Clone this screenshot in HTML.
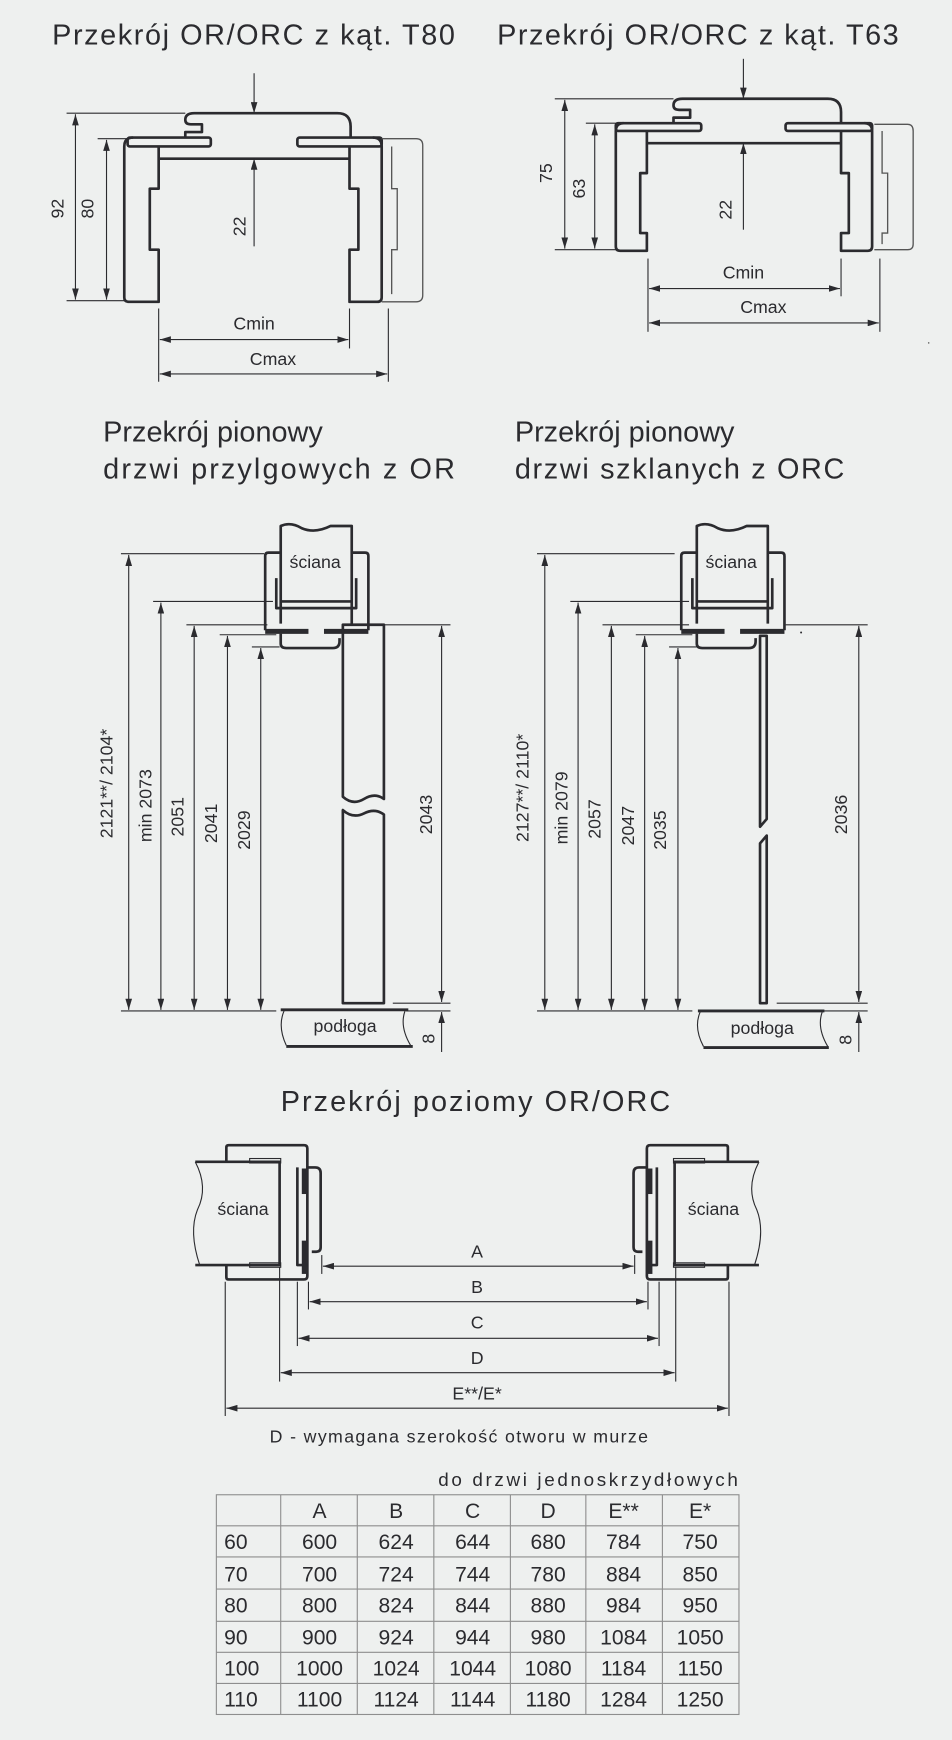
<!DOCTYPE html>
<html><head><meta charset="utf-8"><style>
html,body{margin:0;padding:0;background:#eef0ef;}
svg{display:block}
text{font-family:"Liberation Sans",sans-serif;fill:#2b2b2f}
.t{font-size:26px}
.d{font-size:16px}
.tb{font-size:20px}
.s{fill:none;stroke:#2b2b2f;stroke-width:2.4;stroke-linejoin:round}
.l{fill:none;stroke:#2b2b2f;stroke-width:1}
.g{fill:none;stroke:#555;stroke-width:1.2}
.a{fill:none;stroke:#2b2b2f;stroke-width:1;marker-start:url(#ar);marker-end:url(#ar)}
.ae{fill:none;stroke:#2b2b2f;stroke-width:1;marker-end:url(#ar)}
.tl{fill:none;stroke:#888;stroke-width:1}
</style></head><body>
<svg width="952" height="1740" viewBox="0 0 858 1568" preserveAspectRatio="none" xmlns="http://www.w3.org/2000/svg">
<defs>
<marker id="ar" viewBox="0 0 10 6" refX="10" refY="3" markerWidth="10" markerHeight="6" markerUnits="userSpaceOnUse" orient="auto-start-reverse"><path d="M0,0 L10,3 L0,6 Z" fill="#2b2b2f"/></marker>
</defs>
<rect width="858" height="1568" fill="#eef0ef"/>

<!-- Titles -->
<text class="t" x="47" y="40" textLength="363">Przekrój OR/ORC z kąt. T80</text>
<text class="t" x="448" y="40" textLength="362">Przekrój OR/ORC z kąt. T63</text>

<!-- T80 -->
<path class="s" d="M167,124 L167,119 L182,119 L182,112 L172,112 Q167,112 167,108 Q167,102 175,102 L304,102 Q316,102 316,114 L316,124"/>
<rect class="s" x="115" y="124" width="75" height="8" rx="2"/>
<rect class="s" x="268" y="124" width="76" height="8" rx="2"/>
<path class="s" d="M120,124 Q112,124 112,132 L112,268 Q112,272 116,272 L143,272 L143,225 L135,225 L135,170 L143,170 L143,132"/>
<path class="s" d="M336,124 Q344,124 344,132 L344,268 Q344,272 340,272 L315,272 L315,225 L323,225 L323,170 L315,170 L315,132"/>
<line class="s" x1="143" y1="143" x2="315" y2="143"/>
<path class="g" d="M344,125 L375,125 Q381,125 381,131 L381,266 Q381,272 375,272 L344,272"/>
<path class="g" d="M353,132 L353,170 L358,170 L358,225 L353,225 L353,265"/>
<line class="ae" x1="229" y1="66" x2="229" y2="102"/>
<line class="ae" x1="229" y1="222" x2="229" y2="143"/>
<text class="d" transform="rotate(-90 216 204)" x="216" y="204" text-anchor="middle" dominant-baseline="central">22</text>
<line class="l" x1="60" y1="102" x2="167" y2="102"/>
<line class="l" x1="88" y1="125" x2="115" y2="125"/>
<line class="l" x1="60" y1="271" x2="112" y2="271"/>
<line class="a" x1="68" y1="103" x2="68" y2="270"/>
<line class="a" x1="96" y1="126" x2="96" y2="270"/>
<text class="d" transform="rotate(-90 52 188)" x="52" y="188" text-anchor="middle" dominant-baseline="central">92</text>
<text class="d" transform="rotate(-90 79 188)" x="79" y="188" text-anchor="middle" dominant-baseline="central">80</text>
<line class="l" x1="143" y1="278" x2="143" y2="344"/>
<line class="l" x1="315" y1="278" x2="315" y2="314"/>
<line class="l" x1="350" y1="278" x2="350" y2="344"/>
<line class="a" x1="144" y1="306" x2="314" y2="306"/>
<line class="a" x1="144" y1="337" x2="349" y2="337"/>
<text class="d" x="229" y="297" text-anchor="middle">Cmin</text>
<text class="d" x="246" y="329" text-anchor="middle">Cmax</text>

<!-- T63 -->
<path class="s" d="M607,111 L607,106 L622,106 L622,99 L612,99 Q607,99 607,95 Q607,89 615,89 L746,89 Q758,89 758,101 L758,111"/>
<rect class="s" x="555" y="111" width="77" height="7" rx="2"/>
<rect class="s" x="708" y="111" width="78" height="7" rx="2"/>
<path class="s" d="M562,111 Q555,111 555,118 L555,222 Q555,226 559,226 L583,226 L583,210 L577,210 L577,156 L583,156 L583,118"/>
<path class="s" d="M779,111 Q786,111 786,118 L786,222 Q786,226 782,226 L758,226 L758,210 L765,210 L765,156 L758,156 L758,118"/>
<line class="s" x1="583" y1="129" x2="758" y2="129"/>
<path class="g" d="M788,112 L818,112 Q823,112 823,118 L823,220 Q823,225 818,225 L788,225"/>
<path class="g" d="M795,118 L795,156 L800,156 L800,210 L795,210 L795,220"/>
<line class="ae" x1="670" y1="53" x2="670" y2="89"/>
<line class="ae" x1="670" y1="207" x2="670" y2="129"/>
<text class="d" transform="rotate(-90 654 189)" x="654" y="189" text-anchor="middle" dominant-baseline="central">22</text>
<line class="l" x1="500" y1="89" x2="607" y2="89"/>
<line class="l" x1="528" y1="111" x2="555" y2="111"/>
<line class="l" x1="500" y1="225" x2="555" y2="225"/>
<line class="a" x1="509" y1="90" x2="509" y2="224"/>
<line class="a" x1="536" y1="112" x2="536" y2="224"/>
<text class="d" transform="rotate(-90 492 156)" x="492" y="156" text-anchor="middle" dominant-baseline="central">75</text>
<text class="d" transform="rotate(-90 522 170)" x="522" y="170" text-anchor="middle" dominant-baseline="central">63</text>
<line class="l" x1="584" y1="233" x2="584" y2="299"/>
<line class="l" x1="758" y1="233" x2="758" y2="267"/>
<line class="l" x1="793" y1="233" x2="793" y2="299"/>
<line class="a" x1="585" y1="260" x2="757" y2="260"/>
<line class="a" x1="585" y1="291" x2="792" y2="291"/>
<text class="d" x="670" y="251" text-anchor="middle">Cmin</text>
<text class="d" x="688" y="282" text-anchor="middle">Cmax</text>
<circle cx="837" cy="309" r="0.7" fill="#555"/>

<!-- Vertical titles -->
<text class="t" x="93" y="398">Przekrój pionowy</text>
<text class="t" x="93" y="431" textLength="317">drzwi przylgowych z OR</text>
<text class="t" x="464" y="398">Przekrój pionowy</text>
<text class="t" x="464" y="431" textLength="297">drzwi szklanych z ORC</text>

<!-- Left vertical -->
<g id="vf">
<path class="s" d="M253,562 L253,474 Q262,470 272,476 Q284,481 298,474 L317,474 L317,562"/>
<line class="s" x1="253" y1="542" x2="317" y2="542"/>
<path class="s" d="M239,568 L239,501 Q239,498 242,498 L253,498"/>
<path class="s" d="M317,498 L329,498 Q332,498 332,501 L332,568"/>
<path class="s" d="M249,521 L249,548 L321,548 L321,521"/>
<line x1="239" y1="569" x2="278" y2="569" stroke="#2b2b2f" stroke-width="4.5"/>
<line x1="292" y1="569" x2="332" y2="569" stroke="#2b2b2f" stroke-width="4.5"/>
<path class="s" d="M253,571 L253,580 Q253,584 258,584 L300,584 Q306,584 306,578 L306,575"/>
</g>
<path class="s" d="M309,563 L346,563 L346,720 Q338,714 328,720 Q318,726 309,718 Z"/>
<path class="s" d="M309,904 L346,904 L346,734 Q338,728 328,733 Q318,738 309,730 Z"/>
<!-- dims left -->
<line class="l" x1="109" y1="499" x2="238" y2="499"/>
<line class="l" x1="138" y1="542" x2="246" y2="542"/>
<line class="l" x1="168" y1="563" x2="241" y2="563"/>
<line class="l" x1="198" y1="572" x2="249" y2="572"/>
<line class="l" x1="227" y1="583" x2="252" y2="583"/>
<line class="l" x1="109" y1="911" x2="249" y2="911"/>
<line class="a" x1="116" y1="500" x2="116" y2="910"/>
<line class="a" x1="145" y1="543" x2="145" y2="910"/>
<line class="a" x1="175" y1="564" x2="175" y2="910"/>
<line class="a" x1="205" y1="573" x2="205" y2="910"/>
<line class="a" x1="235" y1="584" x2="235" y2="910"/>
<line class="l" x1="347" y1="563" x2="406" y2="563"/>
<line class="l" x1="354" y1="904" x2="406" y2="904"/>
<line class="l" x1="366" y1="911" x2="406" y2="911"/>
<line class="a" x1="398" y1="564" x2="398" y2="903"/>
<line class="ae" x1="398" y1="948" x2="398" y2="912"/>
<text class="d" transform="rotate(-90 96 706)" x="96" y="706" text-anchor="middle" dominant-baseline="central">2121**/ 2104*</text>
<text class="d" transform="rotate(-90 131 726)" x="131" y="726" text-anchor="middle" dominant-baseline="central">min  2073</text>
<text class="d" transform="rotate(-90 160 736)" x="160" y="736" text-anchor="middle" dominant-baseline="central">2051</text>
<text class="d" transform="rotate(-90 190 742)" x="190" y="742" text-anchor="middle" dominant-baseline="central">2041</text>
<text class="d" transform="rotate(-90 220 748)" x="220" y="748" text-anchor="middle" dominant-baseline="central">2029</text>
<text class="d" transform="rotate(-90 384 734)" x="384" y="734" text-anchor="middle" dominant-baseline="central">2043</text>
<text class="d" transform="rotate(-90 386 936)" x="386" y="936" text-anchor="middle" dominant-baseline="central">8</text>
<line x1="253" y1="910" x2="368" y2="910" stroke="#2b2b2f" stroke-width="2.6"/>
<line x1="258" y1="943" x2="372" y2="943" stroke="#2b2b2f" stroke-width="2.6"/>
<path class="l" d="M256,911 Q250,925 258,942 M365,911 Q360,925 370,942"/>
<text class="d" x="311" y="930" text-anchor="middle">podłoga</text>
<text class="d" x="284" y="512" text-anchor="middle">ściana</text>

<!-- Right vertical -->
<use href="#vf" transform="translate(375,0)"/>
<text class="d" x="659" y="512" text-anchor="middle">ściana</text>
<path class="s" d="M685,573 L691,573 L691,738 L685,745 Z"/>
<path class="s" d="M685,904 L691,904 L691,753 L685,760 Z"/>
<line class="l" x1="484" y1="499" x2="608" y2="499"/>
<line class="l" x1="514" y1="542" x2="621" y2="542"/>
<line class="l" x1="543" y1="563" x2="621" y2="563"/>
<line class="l" x1="573" y1="572" x2="624" y2="572"/>
<line class="l" x1="603" y1="583" x2="628" y2="583"/>
<line class="l" x1="484" y1="911" x2="624" y2="911"/>
<line class="a" x1="491" y1="500" x2="491" y2="910"/>
<line class="a" x1="521" y1="543" x2="521" y2="910"/>
<line class="a" x1="551" y1="564" x2="551" y2="910"/>
<line class="a" x1="581" y1="573" x2="581" y2="910"/>
<line class="a" x1="611" y1="584" x2="611" y2="910"/>
<line class="l" x1="708" y1="563" x2="782" y2="563"/>
<circle cx="722" cy="570" r="0.9" fill="#2b2b2f"/>
<line class="l" x1="700" y1="904" x2="782" y2="904"/>
<line class="l" x1="737" y1="911" x2="782" y2="911"/>
<line class="a" x1="774" y1="564" x2="774" y2="903"/>
<line class="ae" x1="774" y1="948" x2="774" y2="912"/>
<text class="d" transform="rotate(-90 471 710)" x="471" y="710" text-anchor="middle" dominant-baseline="central">2127**/ 2110*</text>
<text class="d" transform="rotate(-90 506 728)" x="506" y="728" text-anchor="middle" dominant-baseline="central">min  2079</text>
<text class="d" transform="rotate(-90 536 738)" x="536" y="738" text-anchor="middle" dominant-baseline="central">2057</text>
<text class="d" transform="rotate(-90 566 744)" x="566" y="744" text-anchor="middle" dominant-baseline="central">2047</text>
<text class="d" transform="rotate(-90 595 748)" x="595" y="748" text-anchor="middle" dominant-baseline="central">2035</text>
<text class="d" transform="rotate(-90 758 734)" x="758" y="734" text-anchor="middle" dominant-baseline="central">2036</text>
<text class="d" transform="rotate(-90 762 937)" x="762" y="937" text-anchor="middle" dominant-baseline="central">8</text>
<line x1="629" y1="911" x2="743" y2="911" stroke="#2b2b2f" stroke-width="2.6"/>
<line x1="634" y1="944" x2="747" y2="944" stroke="#2b2b2f" stroke-width="2.6"/>
<path class="l" d="M631,912 Q625,926 634,943 M741,912 Q736,926 746,943"/>
<text class="d" x="687" y="932" text-anchor="middle">podłoga</text>

<!-- Horizontal section -->
<text class="t" x="253" y="1001" textLength="351">Przekrój poziomy OR/ORC</text>
<g id="hf">
<path class="s" d="M204,1047 L204,1034 Q204,1032 206,1032 L274,1032 Q277,1032 277,1035 L277,1150 Q277,1153 274,1153 L206,1153 Q204,1153 204,1151 L204,1140"/>
<path class="s" d="M176,1047 L252,1047 L252,1140 L176,1140"/>
<path class="l" d="M176,1047 Q188,1070 178,1090 Q170,1110 180,1140"/>
<rect class="l" x="225" y="1044" width="28" height="4"/>
<rect class="l" x="225" y="1138" width="28" height="4"/>
<path class="s" d="M268,1052 L268,1140 L277,1140"/>
<line x1="274" y1="1053" x2="274" y2="1076" stroke="#2b2b2f" stroke-width="4"/>
<line x1="274" y1="1118" x2="274" y2="1148" stroke="#2b2b2f" stroke-width="4"/>
<path class="s" d="M277,1052 L284,1052 Q289,1052 289,1057 L289,1124 Q289,1128 285,1128 L281,1128"/>
</g>
<use href="#hf" transform="translate(860,0) scale(-1,1)"/>
<text class="d" x="219" y="1095" text-anchor="middle">ściana</text>
<text class="d" x="643" y="1095" text-anchor="middle">ściana</text>
<line class="l" x1="290" y1="1131" x2="290" y2="1148"/>
<line class="l" x1="572" y1="1131" x2="572" y2="1148"/>
<line class="l" x1="278" y1="1155" x2="278" y2="1180"/>
<line class="l" x1="584" y1="1155" x2="584" y2="1180"/>
<line class="l" x1="268" y1="1155" x2="268" y2="1213"/>
<line class="l" x1="594" y1="1155" x2="594" y2="1213"/>
<line class="l" x1="252" y1="1142" x2="252" y2="1245"/>
<line class="l" x1="609" y1="1142" x2="609" y2="1245"/>
<line class="l" x1="203" y1="1155" x2="203" y2="1276"/>
<line class="l" x1="657" y1="1155" x2="657" y2="1276"/>
<line class="a" x1="291" y1="1141" x2="571" y2="1141"/>
<line class="a" x1="279" y1="1173" x2="583" y2="1173"/>
<line class="a" x1="269" y1="1206" x2="593" y2="1206"/>
<line class="a" x1="253" y1="1237" x2="608" y2="1237"/>
<line class="a" x1="204" y1="1269" x2="656" y2="1269"/>
<text class="d" x="430" y="1133" text-anchor="middle">A</text>
<text class="d" x="430" y="1165" text-anchor="middle">B</text>
<text class="d" x="430" y="1197" text-anchor="middle">C</text>
<text class="d" x="430" y="1229" text-anchor="middle">D</text>
<text class="d" x="430" y="1261" text-anchor="middle">E**/E*</text>
<text class="d" x="243" y="1300" textLength="341">D - wymagana szerokość otworu w murze</text>
<text x="665" y="1339" text-anchor="end" style="font-size:17px" textLength="270">do drzwi jednoskrzydłowych</text>

<!-- Table -->
<g stroke="#8e8e8e" stroke-width="1">
<rect x="195" y="1347" width="471" height="198" fill="none"/>
<line x1="253" y1="1347" x2="253" y2="1545"/><line x1="322" y1="1347" x2="322" y2="1545"/>
<line x1="391" y1="1347" x2="391" y2="1545"/><line x1="460" y1="1347" x2="460" y2="1545"/>
<line x1="528" y1="1347" x2="528" y2="1545"/><line x1="597" y1="1347" x2="597" y2="1545"/>
<line x1="195" y1="1375" x2="666" y2="1375"/><line x1="195" y1="1403" x2="666" y2="1403"/>
<line x1="195" y1="1432" x2="666" y2="1432"/><line x1="195" y1="1461" x2="666" y2="1461"/>
<line x1="195" y1="1489" x2="666" y2="1489"/><line x1="195" y1="1517" x2="666" y2="1517"/>
</g>
<g class="tb" text-anchor="middle" style="font-size:19px">
<text x="288" y="1368">A</text><text x="357" y="1368">B</text><text x="426" y="1368">C</text><text x="494" y="1368">D</text><text x="562" y="1368">E**</text><text x="631" y="1368">E*</text>
<text x="288" y="1396">600</text><text x="357" y="1396">624</text><text x="426" y="1396">644</text><text x="494" y="1396">680</text><text x="562" y="1396">784</text><text x="631" y="1396">750</text>
<text x="288" y="1425">700</text><text x="357" y="1425">724</text><text x="426" y="1425">744</text><text x="494" y="1425">780</text><text x="562" y="1425">884</text><text x="631" y="1425">850</text>
<text x="288" y="1453">800</text><text x="357" y="1453">824</text><text x="426" y="1453">844</text><text x="494" y="1453">880</text><text x="562" y="1453">984</text><text x="631" y="1453">950</text>
<text x="288" y="1482">900</text><text x="357" y="1482">924</text><text x="426" y="1482">944</text><text x="494" y="1482">980</text><text x="562" y="1482">1084</text><text x="631" y="1482">1050</text>
<text x="288" y="1510">1000</text><text x="357" y="1510">1024</text><text x="426" y="1510">1044</text><text x="494" y="1510">1080</text><text x="562" y="1510">1184</text><text x="631" y="1510">1150</text>
<text x="288" y="1538">1100</text><text x="357" y="1538">1124</text><text x="426" y="1538">1144</text><text x="494" y="1538">1180</text><text x="562" y="1538">1284</text><text x="631" y="1538">1250</text>
</g>
<g style="font-size:19px">
<text x="202" y="1396">60</text><text x="202" y="1425">70</text><text x="202" y="1453">80</text><text x="202" y="1482">90</text><text x="202" y="1510">100</text><text x="202" y="1538">110</text>
</g>
</svg>
</body></html>
